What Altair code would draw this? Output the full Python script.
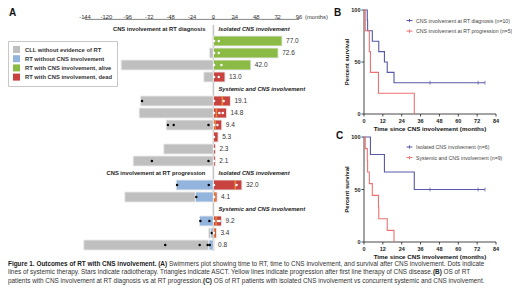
import altair as alt
import pandas as pd

FONT = "Liberation Sans"
W, H = 504, 277

# ---------------- Panel A: swimmer plot values ----------------
row_pos = [1, 2, 3, 4, 6, 7, 8, 9, 10, 11, 13, 14, 16, 17, 18]
survival = [77.0, 72.6, 42.0, 13.0, 19.1, 14.8, 9.4, 5.3, 2.3, 2.1, 32.0, 4.1, 9.2, 3.4, 0.8]
alive = [True, True, True, False, False, False, False, False, False, False, False, False, False, False, False]
cll_start = [None, -4.5, -103.5, -10.8, -81.8, -83.3, -53.0, None, -55.7, -90.0, None, -99.4, None, -5.5, -145.4]
rt_start = [None, None, None, None, None, None, None, None, None, None, -41.8, -20.2, -15.7, -3.0, -5.0]

therapy_rows = [6, 8, 8, 8, 11, 11, 13, 13, 14, 16, 16, 17, 18, 18, 18, 18]
therapy_months = [-80.0, -51.0, -44.5, -5.5, -69.0, -5.5, -40.7, -5.2, -19.2, -14.6, -4.5, -1.8, -54.0, -15.4, -6.4, -4.1]

marker_rows = [1, 1, 2, 2, 3, 3, 4, 4, 6, 6, 7, 7, 7, 8, 8, 9, 10, 11, 13, 13, 14, 16, 16, 16, 17]
marker_months = [0.8, 6.0, 0.8, 6.0, 0.8, 9.0, 0.8, 6.0, 0.8, 11.5, 0.8, 6.7, 10.5, 0.8, 4.5, 0.7, 0.7, 0.7, 0.7, 26.0, 0.7, 0.7, 5.2, 7.1, 0.5]

prog_rows = [6, 7, 8, 13, 14, 16, 17]
prog_months = [10.0, 3.4, 2.0, 24.5, 1.9, 3.0, 1.2]

header_left_rows = [0, 12]
header_left_text = ["CNS involvement at RT diagnosis", "CNS involvement at RT progression"]
header_right_rows = [0, 5, 12, 15]
header_right_text = ["Isolated CNS involvement", "Systemic and CNS involvement",
                     "Isolated CNS involvement", "Systemic and CNS involvement"]

bar_categories = ["CLL without evidence of RT", "RT without CNS involvement",
                  "RT with CNS involvement, alive", "RT with CNS involvement, dead"]
bar_colors = ["#bfbfbf", "#93b5dd", "#8cbb45", "#c84340"]
a_ticks = [-144, -120, -96, -72, -48, -24, 0, 24, 48, 72, 96]

# ---------------- Panels B and C: Kaplan-Meier values ----------------
b_groups = ["CNS involvement at RT diagnosis (n=10)", "CNS involvement at RT progression (n=5)"]
b_diag_t = [0, 2.1, 2.3, 5.3, 9.4, 13.0, 14.8, 19.1, 77.0]
b_diag_s = [100, 90, 80, 70, 60, 50, 40, 30, 30]
b_prog_t = [0, 0.8, 3.4, 4.1, 9.2, 32.0]
b_prog_s = [100, 80, 60, 40, 20, 0]
b_censor_t = [42.0, 72.6, 77.0]
b_censor_s = [30, 30, 30]

c_groups = ["Isolated CNS involvement (n=6)", "Systemic and CNS involvement (n=9)"]
c_iso_t = [0, 4.1, 13.0, 32.0, 77.0]
c_iso_s = [100, 83.3, 66.7, 50.0, 50.0]
c_sys_t = [0, 0.8, 2.1, 2.3, 3.4, 5.3, 9.2, 9.4, 14.8, 19.1]
c_sys_s = [100, 88.9, 77.8, 66.7, 55.6, 44.4, 33.3, 22.2, 11.1, 0]
c_censor_t = [42.0, 72.6, 77.0]
c_censor_s = [50, 50, 50]

km_ticks = [0, 12, 24, 36, 48, 60, 72, 84]
surv_ticks = [0, 50, 100]
KM_BLUE, KM_RED = "#5858a8", "#ef7272"

caption_lines = [
    [("Figure 1. Outcomes of RT with CNS involvement. (A)", True),
     (" Swimmers plot showing time to RT, time to CNS involvement, and survival after CNS involvement. Dots indicate", False)],
    [("lines of systemic therapy. Stars indicate radiotherapy. Triangles indicate ASCT. Yellow lines indicate progression after first line therapy of CNS disease.", False),
     (" (B)", True), (" OS of RT", False)],
    [("patients with CNS involvement at RT diagnosis vs at RT progression.", False),
     (" (C)", True),
     (" OS of RT patients with isolated CNS involvement vs concurrent systemic and CNS involvement.", False)],
]

# ---------------- text width helper (Arial metrics) ----------------
LOW = "abcdefghijklmnopqrstuvwxyz"
UP = "ABCDEFGHIJKLMNOPQRSTUVWXYZ"
_REG = dict(zip(LOW, [556, 556, 500, 556, 556, 278, 556, 556, 222, 222, 500, 222, 833, 556, 556, 556, 556, 333, 500, 278, 556, 500, 722, 500, 500, 500]))
_REG.update(zip(UP, [667, 667, 722, 722, 667, 611, 778, 722, 278, 500, 667, 556, 833, 722, 778, 667, 778, 722, 667, 611, 722, 667, 944, 667, 667, 611]))
_BOLD = dict(zip(LOW, [556, 611, 556, 611, 556, 333, 611, 611, 278, 278, 556, 278, 889, 611, 611, 611, 611, 389, 556, 333, 611, 556, 778, 556, 556, 500]))
_BOLD.update(zip(UP, [722, 722, 722, 722, 667, 611, 778, 722, 278, 556, 722, 611, 833, 722, 778, 667, 778, 722, 667, 611, 722, 667, 944, 667, 667, 611]))
for d in (_REG, _BOLD):
    d.update({c: 556 for c in "0123456789"})
    d.update({" ": 278, ".": 278, ",": 278, "(": 333, ")": 333, "-": 333, "=": 584})
REG_FIX, BOLD_FIX = 0.988, 1.0


def em_width(s, bold):
    tab = _BOLD if bold else _REG
    return sum(tab.get(c, 556) for c in s) / 1000.0 * (BOLD_FIX if bold else REG_FIX)


# ---------------- Panel A ----------------
xA = alt.Scale(domain=[-144, 96], range=[77, 291], nice=False, zero=False)
yA = alt.Scale(domain=[0, 18], range=[16, 242], nice=False, zero=False)
XA = dict(scale=xA, axis=None)
YA = dict(scale=yA, axis=None)

segs = []
for r, s, a, c, b in zip(row_pos, survival, alive, cll_start, rt_start):
    if c is not None:
        segs.append(dict(row=r, start=c, end=(b if b is not None else 0.0), cat=bar_categories[0]))
    if b is not None:
        segs.append(dict(row=r, start=b, end=0.0, cat=bar_categories[1]))
    segs.append(dict(row=r, start=0.0, end=s, cat=bar_categories[2] if a else bar_categories[3]))
bars_df = pd.DataFrame(segs)

zero_line = alt.Chart(pd.DataFrame({"x": [0.0], "y1": [-0.35], "y2": [18.5]})).mark_rule(
    color="#c6c6c6", strokeWidth=1.6).encode(
    x=alt.X("x:Q", **XA), y=alt.Y("y1:Q", **YA), y2="y2:Q")

# top axis of panel A (domain line, ticks, labels) drawn through the A scales
a_axis_line = alt.Chart(pd.DataFrame({"x1": [a_ticks[0]], "x2": [a_ticks[-1]], "y": [-0.8]})).mark_rule(
    color="#666", strokeWidth=0.8).encode(x=alt.X("x1:Q", **XA), x2="x2:Q", y=alt.Y("y:Q", **YA))
a_tick_df = pd.DataFrame({"x": a_ticks, "y0": [-0.8] * len(a_ticks), "y1": [-0.96] * len(a_ticks),
                          "yl": [-1.04] * len(a_ticks), "lab": [str(v) for v in a_ticks]})
a_tick_marks = alt.Chart(a_tick_df).mark_rule(color="#666", strokeWidth=0.8).encode(
    x=alt.X("x:Q", **XA), y=alt.Y("y0:Q", **YA), y2="y1:Q")
a_tick_labels = alt.Chart(a_tick_df).mark_text(baseline="middle", fontSize=5.8, color="#333").encode(
    x=alt.X("x:Q", **XA), y=alt.Y("yl:Q", **YA), text="lab:N")
months_lbl = alt.Chart(pd.DataFrame({"x": [96.0], "y": [-1.04], "t": ["(months)"]})).mark_text(
    align="left", baseline="middle", dx=6, fontSize=5.8, color="#333").encode(
    x=alt.X("x:Q", **XA), y=alt.Y("y:Q", **YA), text="t:N")

bars = alt.Chart(bars_df).mark_bar(orient="horizontal", size=10, stroke="#ececec", strokeWidth=0.9).encode(
    x=alt.X("start:Q", **XA),
    x2="end:Q",
    y=alt.Y("row:Q", **YA),
    color=alt.Color("cat:N", scale=alt.Scale(domain=bar_categories, range=bar_colors),
                    legend=alt.Legend(title=None, orient="none", legendX=0, legendY=33,
                                      strokeColor="#c8c8c8", fillColor="white", padding=5,
                                      symbolType="square", symbolSize=49, symbolStrokeWidth=0,
                                      labelFontSize=5.8, labelFontWeight="bold", labelColor="#333",
                                      rowPadding=2.2, labelOffset=5, labelLimit=300)))

prog = alt.Chart(pd.DataFrame({"row": prog_rows, "m": prog_months})).mark_tick(
    orient="vertical", size=10, thickness=1.6, color="#f2a33a").encode(
    x=alt.X("m:Q", **XA), y=alt.Y("row:Q", **YA))

therapy = alt.Chart(pd.DataFrame({"row": therapy_rows, "m": therapy_months})).mark_circle(
    size=6, color="black", opacity=1).encode(x=alt.X("m:Q", **XA), y=alt.Y("row:Q", **YA))

markers = alt.Chart(pd.DataFrame({"row": marker_rows, "m": marker_months})).mark_circle(
    size=6, color="white", opacity=1).encode(x=alt.X("m:Q", **XA), y=alt.Y("row:Q", **YA))

val_df = pd.DataFrame({"row": row_pos, "v": survival, "t": [f"{v:.1f}" for v in survival]})
values = alt.Chart(val_df).mark_text(align="left", baseline="middle", dx=4, fontSize=6.5, color="#333").encode(
    x=alt.X("v:Q", **XA), y=alt.Y("row:Q", **YA), text="t:N")

hl = alt.Chart(pd.DataFrame({"row": header_left_rows, "x": [0.0] * 2, "t": header_left_text})).mark_text(
    align="right", baseline="middle", dx=-8, fontSize=5.8, fontWeight="bold", color="#222").encode(
    x=alt.X("x:Q", **XA), y=alt.Y("row:Q", **YA), text="t:N")
hr = alt.Chart(pd.DataFrame({"row": header_right_rows, "x": [0.0] * 4, "t": header_right_text})).mark_text(
    align="left", baseline="middle", dx=5, fontSize=5.8, fontWeight="bold", fontStyle="italic", color="#222").encode(
    x=alt.X("x:Q", **XA), y=alt.Y("row:Q", **YA), text="t:N")

panelA = alt.layer(zero_line, a_axis_line, a_tick_marks, a_tick_labels, months_lbl,
                   bars, prog, therapy, markers, values, hl, hr)


# ---------------- Panels B / C ----------------
def km_panel(groups, ts, ss, cen_t, cen_s, yrange, legend_y):
    rows = []
    for g, tt, sv in zip(groups, ts, ss):
        rows += [dict(t=t, s=s, g=g) for t, s in zip(tt, sv)]
    df = pd.DataFrame(rows)
    xs = alt.Scale(domain=[0, 84], range=[356, 488], nice=False, zero=False)
    ys = alt.Scale(domain=[0, 100], range=yrange, nice=False, zero=False)
    XS = dict(scale=xs, axis=None)
    YS = dict(scale=ys, axis=None)
    px_per_pct = (yrange[0] - yrange[1]) / 100.0
    px_per_month = (488 - 356) / 84.0

    lines = alt.Chart(df).mark_line(interpolate="step-after", strokeWidth=1.1).encode(
        x=alt.X("t:Q", **XS), y=alt.Y("s:Q", **YS),
        color=alt.Color("g:N", scale=alt.Scale(domain=groups, range=[KM_BLUE, KM_RED]),
                        legend=alt.Legend(title=None, orient="none", legendX=398, legendY=legend_y,
                                          symbolType="M-1,0L1,0M0,-0.55L0,0.55", symbolSize=36,
                                          symbolStrokeWidth=1, labelFontSize=5.2, labelColor="#444",
                                          rowPadding=1.6, padding=0, labelOffset=3, labelLimit=300)))
    cens = alt.Chart(pd.DataFrame({"t": cen_t, "s": cen_s})).mark_tick(
        orient="vertical", size=4, thickness=1, color=KM_BLUE).encode(
        x=alt.X("t:Q", **XS), y=alt.Y("s:Q", **YS))

    # x axis
    x_dom = alt.Chart(pd.DataFrame({"a": [km_ticks[0]], "b": [km_ticks[-1]], "s": [0]})).mark_rule(
        color="#333", strokeWidth=0.9).encode(x=alt.X("a:Q", **XS), x2="b:Q", y=alt.Y("s:Q", **YS))
    xt_df = pd.DataFrame({"t": km_ticks, "s0": [0] * len(km_ticks),
                          "s1": [-2.5 / px_per_pct] * len(km_ticks), "lab": [str(v) for v in km_ticks]})
    x_tk = alt.Chart(xt_df).mark_rule(color="#333", strokeWidth=0.9).encode(
        x=alt.X("t:Q", **XS), y=alt.Y("s0:Q", **YS), y2="s1:Q")
    x_lb = alt.Chart(xt_df).mark_text(baseline="middle", dy=7, fontSize=5.5, fontWeight="bold", color="#222").encode(
        x=alt.X("t:Q", **XS), y=alt.Y("s0:Q", **YS), text="lab:N")
    x_ti = alt.Chart(pd.DataFrame({"t": [42.0], "s": [0], "lab": ["Time since CNS involvement (months)"]})).mark_text(
        baseline="middle", dy=14.5, fontSize=6.2, fontWeight="bold", color="#111").encode(
        x=alt.X("t:Q", **XS), y=alt.Y("s:Q", **YS), text="lab:N")
    # y axis
    y_dom = alt.Chart(pd.DataFrame({"t": [0], "a": [surv_ticks[0]], "b": [surv_ticks[-1]]})).mark_rule(
        color="#333", strokeWidth=0.9).encode(x=alt.X("t:Q", **XS), y=alt.Y("a:Q", **YS), y2="b:Q")
    yt_df = pd.DataFrame({"s": surv_ticks, "t0": [0] * len(surv_ticks),
                          "t1": [-2.5 / px_per_month] * len(surv_ticks), "lab": [str(v) for v in surv_ticks]})
    y_tk = alt.Chart(yt_df).mark_rule(color="#333", strokeWidth=0.9).encode(
        x=alt.X("t0:Q", **XS), x2="t1:Q", y=alt.Y("s:Q", **YS))
    y_lb = alt.Chart(yt_df).mark_text(align="right", baseline="middle", dx=-3.5, fontSize=5.5,
                                      fontWeight="bold", color="#222").encode(
        x=alt.X("t0:Q", **XS), y=alt.Y("s:Q", **YS), text="lab:N")
    y_ti = alt.Chart(pd.DataFrame({"t": [-17.0 / px_per_month], "s": [50], "lab": ["Percent survival"]})).mark_text(
        align="center", baseline="middle", angle=270, fontSize=6, fontWeight="bold", color="#111").encode(
        x=alt.X("t:Q", **XS), y=alt.Y("s:Q", **YS), text="lab:N")
    return alt.layer(x_dom, x_tk, x_lb, x_ti, y_dom, y_tk, y_lb, y_ti, lines, cens)


panelB = km_panel(b_groups, [b_diag_t, b_prog_t], [b_diag_s, b_prog_s], b_censor_t, b_censor_s, [106, 2], 9)
panelC = km_panel(c_groups, [c_iso_t, c_sys_t], [c_iso_s, c_sys_s], c_censor_t, c_censor_s, [234, 129], 135.5)

# ---------------- caption and panel letters ----------------
line_em = [sum(em_width(t, b) for t, b in ln) for ln in caption_lines]
cap_size = min(6.4, 502.0 / max(line_em))
cap_rows = []
line_y = [255.5, 264, 272.5]
for ln, yy in zip(caption_lines, line_y):
    cur = 0.0
    for t, b in ln:
        lead = len(t) - len(t.lstrip(" "))
        cap_rows.append(dict(px=cur + em_width(" " * lead, b) * cap_size, py=yy, t=t.strip(), b=b))
        cur += em_width(t, b) * cap_size
cap_df = pd.DataFrame(cap_rows)
pxs = alt.Scale(domain=[0, W], range=[0, W], nice=False, zero=False)
pys = alt.Scale(domain=[0, H], range=[0, H], nice=False, zero=False)


def cap_layer(df, bold):
    return alt.Chart(df).mark_text(align="left", baseline="middle", fontSize=cap_size,
                                   fontWeight="bold" if bold else "normal",
                                   color="#1a1a1a" if bold else "#333").encode(
        x=alt.X("px:Q", scale=pxs, axis=None), y=alt.Y("py:Q", scale=pys, axis=None), text="t:N")


cap_bold = cap_layer(cap_df[cap_df.b], True)
cap_norm = cap_layer(cap_df[~cap_df.b], False)

letters = alt.Chart(pd.DataFrame({"px": [1, 326, 328], "py": [4.5, 5, 128], "t": ["A", "B", "C"]})).mark_text(
    align="left", baseline="middle", fontSize=10, fontWeight="bold", color="#111").encode(
    x=alt.X("px:Q", scale=pxs, axis=None), y=alt.Y("py:Q", scale=pys, axis=None), text="t:N")

chart = alt.layer(panelA, panelB, panelC, cap_bold, cap_norm, letters).resolve_scale(
    x="independent", y="independent", color="independent"
).properties(
    width=W, height=H, autosize=alt.AutoSizeParams(type="none"), padding=0
).configure(font=FONT).configure_view(stroke=None)

chart.save("out.html", embed_options={"renderer": "svg", "actions": False})
